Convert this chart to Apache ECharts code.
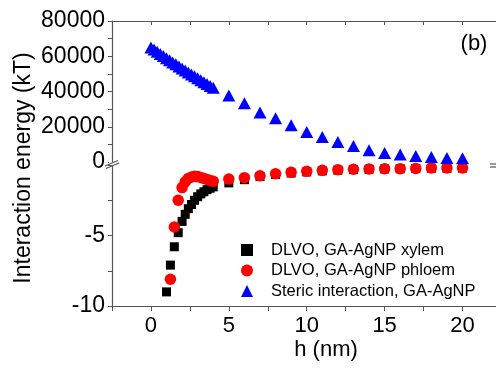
<!DOCTYPE html>
<html><head><meta charset="utf-8">
<script src="https://cdn.jsdelivr.net/npm/echarts@6/dist/echarts.min.js"></script>
<style>html,body{margin:0;padding:0;background:#fff}#c{width:496px;height:371px}</style>
</head><body><div id="c"></div>
<script>
// DLVO, GA-AgNP xylem (kT)
const xylemH = [1.0,1.25,1.5,1.75,2.0,2.2,2.4,2.6,2.8,3.0,3.2,3.4,3.6,3.8,4.0,5,6,7,8,9,10,11,12,13,14,15,16,17,18,19,20];
const xylemE = [-9.0,-7.1,-5.8,-4.8,-4.0,-3.5,-3.1,-2.8,-2.5,-2.25,-2.05,-1.9,-1.75,-1.65,-1.55,-1.27,-1.04,-0.82,-0.67,-0.57,-0.49,-0.42,-0.37,-0.33,-0.3,-0.28,-0.27,-0.25,-0.23,-0.23,-0.22];
// DLVO, GA-AgNP phloem (kT)
const phloemH = [1.25,1.5,1.75,2.0,2.2,2.4,2.6,2.8,3.0,3.2,3.4,3.6,3.8,4.0,5,6,7,8,9,10,11,12,13,14,15,16,17,18,19,20];
const phloemE = [-8.1,-4.4,-2.5,-1.6,-1.2,-0.95,-0.85,-0.8,-0.82,-0.88,-0.95,-1.02,-1.1,-1.16,-1.0,-0.9,-0.76,-0.62,-0.52,-0.45,-0.38,-0.33,-0.3,-0.28,-0.27,-0.26,-0.24,-0.21,-0.21,-0.21];
// Steric interaction, GA-AgNP (kT)
const stericH = [0,0.2,0.4,0.6,0.8,1.0,1.2,1.4,1.6,1.8,2.0,2.2,2.4,2.6,2.8,3.0,3.2,3.4,3.6,3.8,4.0,5,6,7,8,9,10,11,12,13,14,15,16,17,18,19,20];
const stericE = [65000,63800,62500,61300,60100,58900,57700,56500,55400,54200,53000,51900,50800,49700,48600,47500,46400,45300,44200,43100,42100,37800,33300,28100,24800,20800,17000,14200,11300,9100,6600,5100,4200,3400,2800,2300,2100];

const upperTicks = [0,20000,40000,60000,80000];
const lowerTicks = [-10,-5,0];
const xTicks = [0,5,10,15,20];
const names = ['DLVO, GA-AgNP xylem','DLVO, GA-AgNP phloem','Steric interaction, GA-AgNP'];

const FF = '"Liberation Sans", Arial, sans-serif';
const AX = '#555';
const zip = (a,b) => a.map((v,i)=>[v,b[i]]);

const chart = echarts.init(document.getElementById('c'), null, {renderer:'canvas'});
chart.setOption({
  animation:false,
  backgroundColor:'#fff',
  grid:[
    {left:112, top:21, right:0, height:141},
    {left:112, top:165, right:0, height:141}
  ],
  xAxis:[
    {gridIndex:0, type:'value', position:'top', min:-2.5, max:22.15, interval:2.5,
     axisLine:{show:true, onZero:false, lineStyle:{color:AX, width:1.2}},
     axisTick:{show:true, inside:true, length:4, lineStyle:{color:AX}},
     axisLabel:{show:false}, splitLine:{show:false}},
    {gridIndex:1, type:'value', position:'bottom', min:-2.5, max:22.15, interval:2.5,
     axisLine:{show:true, onZero:false, lineStyle:{color:AX, width:1.2}},
     axisTick:{show:true, length:5, lineStyle:{color:AX}},
     axisLabel:{show:true, margin:9, fontSize:22, fontFamily:FF, color:'#000', hideOverlap:false, showMaxLabel:false,
       formatter:v => xTicks.includes(v) ? String(v) : ''},
     splitLine:{show:false}}
  ],
  yAxis:[
    {gridIndex:0, type:'value', min:0, max:80000, interval:20000,
     axisLine:{show:true, onZero:false, lineStyle:{color:AX, width:1.2}},
     axisTick:{show:true, length:4, lineStyle:{color:AX}},
     minorTick:{show:true, splitNumber:2, length:4, lineStyle:{color:AX}},
     axisLabel:{margin:7, fontSize:23, fontFamily:FF, color:'#000',
       formatter:v => upperTicks.includes(v) ? String(v) : ''},
     splitLine:{show:false}},
    {gridIndex:1, type:'value', min:-10, max:0, interval:5,
     axisLine:{show:true, onZero:false, lineStyle:{color:AX, width:1.2}},
     axisTick:{show:true, length:4, lineStyle:{color:AX}},
     minorTick:{show:true, splitNumber:2, length:4, lineStyle:{color:AX}},
     axisLabel:{margin:7, fontSize:23, fontFamily:FF, color:'#000',
       formatter:v => (lowerTicks.includes(v) && v !== 0) ? String(v) : ''},
     splitLine:{show:false}}
  ],
  legend:{
    orient:'vertical', left:236, top:235, itemWidth:12, itemHeight:12, itemGap:0.5,
    textStyle:{fontSize:16.5, fontFamily:FF, color:'#000', lineHeight:20, padding:[0,0,0,13]},
    data:names
  },
  series:[
    {name:names[0], type:'scatter', xAxisIndex:1, yAxisIndex:1, symbol:'rect', symbolSize:9,
     itemStyle:{color:'#000', opacity:1}, data:zip(xylemH, xylemE), z:2},
    {name:names[1], type:'scatter', xAxisIndex:1, yAxisIndex:1, symbol:'circle', symbolSize:11.5,
     itemStyle:{color:'#ff0000', opacity:1}, data:zip(phloemH, phloemE), z:3},
    {name:names[2], type:'scatter', xAxisIndex:0, yAxisIndex:0, symbol:'triangle', symbolSize:[13,12],
     itemStyle:{color:'#0000ff', opacity:1}, data:zip(stericH, stericE), z:3}
  ],
  graphic:[
    {type:'rect', shape:{x:109, y:162, width:8, height:3}, style:{fill:'#fff'}, z:50},
    {type:'line', shape:{x1:105, y1:166, x2:118, y2:160.5}, style:{stroke:AX, lineWidth:1.2}, z:51},
    {type:'line', shape:{x1:106, y1:168.5, x2:119, y2:163}, style:{stroke:AX, lineWidth:1.2}, z:51},
    {type:'line', shape:{x1:490, y1:164, x2:496, y2:164}, style:{stroke:'#333', lineWidth:1}, z:51},
    {type:'line', shape:{x1:490, y1:167, x2:496, y2:167}, style:{stroke:'#333', lineWidth:1}, z:51},
    {type:'text', x:474, y:44, style:{text:'(b)', font:'22px '+FF, fill:'#000', textAlign:'center', textVerticalAlign:'middle'}, z:52},
    {type:'text', x:24, y:168, rotation:Math.PI/2, style:{text:'Interaction energy (kT)', font:'23px '+FF, fill:'#000', textAlign:'center', textVerticalAlign:'middle'}, z:52},
    {type:'text', x:326, y:350, style:{text:'h (nm)', font:'22px '+FF, fill:'#000', textAlign:'center', textVerticalAlign:'middle'}, z:52}
  ]
});
</script></body></html>
